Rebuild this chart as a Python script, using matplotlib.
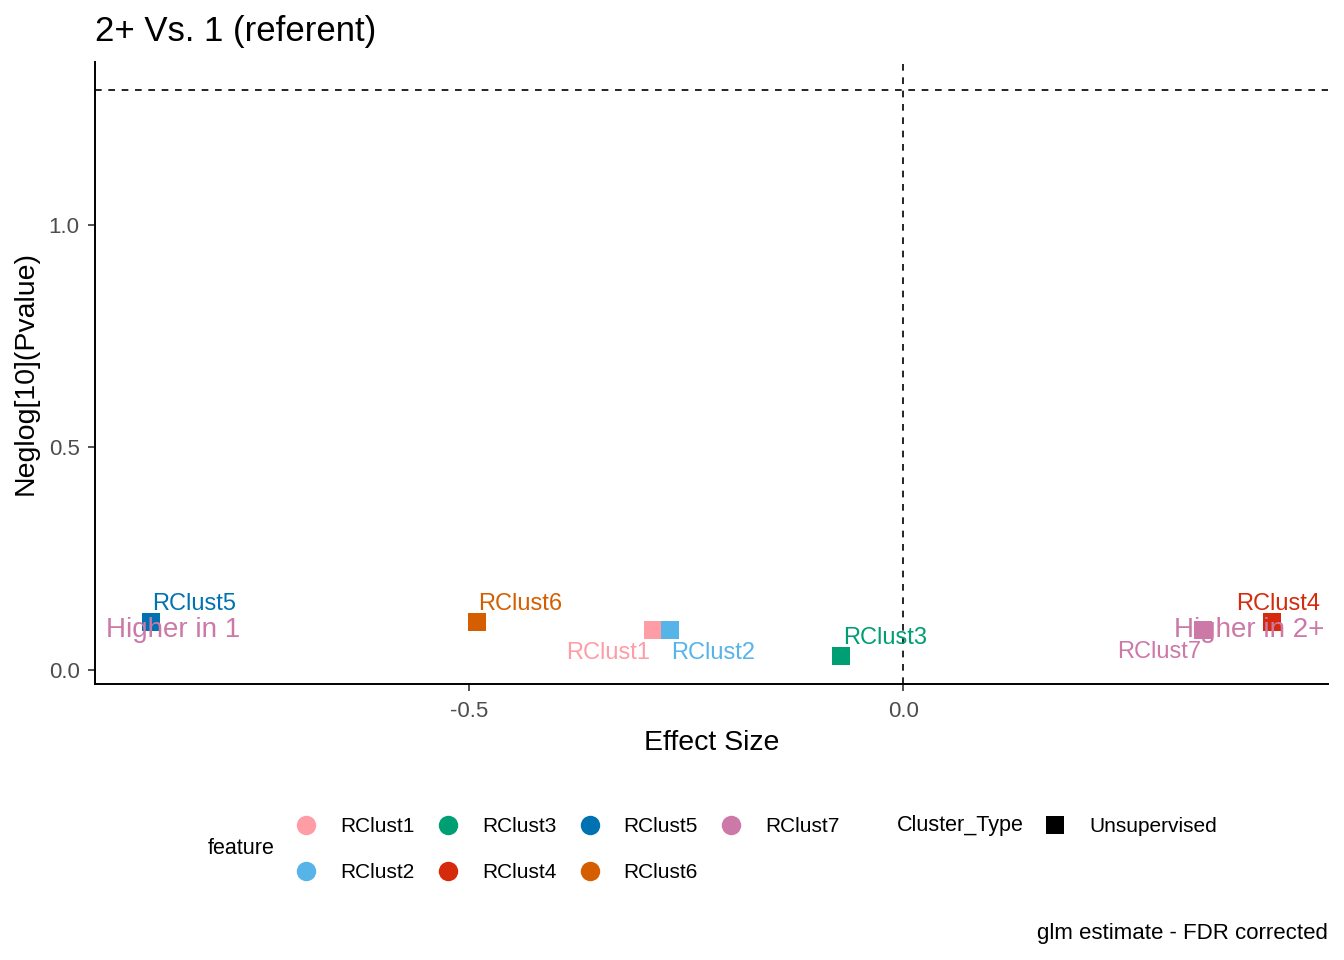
import matplotlib
matplotlib.use("Agg")
import matplotlib.pyplot as plt
from matplotlib.lines import Line2D

plt.rcParams["font.family"] = ["Liberation Sans", "DejaVu Sans"]

# data
features = ["RClust1", "RClust2", "RClust3", "RClust4", "RClust5", "RClust6", "RClust7"]
effect_size = [-0.289, -0.269, -0.072, 0.425, -0.867, -0.491, 0.346]
neglog_p = [0.091, 0.091, 0.033, 0.109, 0.109, 0.109, 0.091]
feature_colors = ["#FF9DA7", "#56B4E9", "#009E73", "#D52A0B", "#0072B2", "#D55E00", "#CC79A7"]

direction_labels = ["Higher in 1", "Higher in 2+"]
direction_x = [-0.842, 0.399]
direction_y = [0.091, 0.091]

sig_cutoff = 1.301  # -log10(0.05)

# label offsets (points) mimicking the ggrepel placement
label_offsets = {
    "RClust1": (-1.5, -16.5, "right"),
    "RClust2": (0.7, -16.5, "left"),
    "RClust3": (1.5, 13.0, "left"),
    "RClust4": (4.3, 13.0, "center"),
    "RClust5": (0.7, 12.5, "left"),
    "RClust6": (0.7, 13.0, "left"),
    "RClust7": (-1.5, -16.0, "right"),
}

fig = plt.figure(figsize=(13.44, 9.6), dpi=100)
ax = fig.add_axes([95 / 1344, 1 - 684 / 960, (1328 - 95) / 1344, (684 - 62) / 960])

ax.axhline(sig_cutoff, color="black", linestyle=(0, (4, 4)), linewidth=1.2, zorder=1)
ax.axvline(0, color="black", linestyle=(0, (4, 4)), linewidth=1.2, zorder=1)

for name, x, y, c in zip(features, effect_size, neglog_p, feature_colors):
    ax.scatter(x, y, marker="s", s=185, color=c, linewidths=0, zorder=3)

for name, x, y, c in zip(features, effect_size, neglog_p, feature_colors):
    dx, dy, ha = label_offsets[name]
    ax.annotate(name, (x, y), xytext=(dx, dy), textcoords="offset points",
                ha=ha, va="center", fontsize=17, color=c, zorder=4)

for lab, x, y in zip(direction_labels, direction_x, direction_y):
    ax.text(x, y, lab, ha="center", va="center", fontsize=20, color="#CC79A7", zorder=5)

xmin, xmax = min(effect_size), max(effect_size)
xr = xmax - xmin
ax.set_xlim(xmin - 0.05 * xr, xmax + 0.05 * xr)
ymin, ymax = min(neglog_p), sig_cutoff
yr = ymax - ymin
ax.set_ylim(ymin - 0.05 * yr, ymax + 0.05 * yr)

ax.set_xticks([-0.5, 0.0])
ax.set_xticklabels(["-0.5", "0.0"])
ax.set_yticks([0.0, 0.5, 1.0])
ax.set_yticklabels(["0.0", "0.5", "1.0"])
ax.tick_params(axis="both", labelsize=16, labelcolor="#4D4D4D", color="#333333",
               length=5, width=1.2)
ax.tick_params(axis="x", pad=7)
ax.tick_params(axis="y", pad=6)

for side in ["top", "right"]:
    ax.spines[side].set_visible(False)
for side in ["left", "bottom"]:
    ax.spines[side].set_linewidth(1.4)

ax.set_xlabel("Effect Size", fontsize=20.5, labelpad=6)
ax.set_ylabel("Neglog[10](Pvalue)", fontsize=20.5, labelpad=7)
ax.set_title("2+ Vs. 1 (referent)", fontsize=25, loc="left", pad=15)

# feature legend
handles = [Line2D([], [], marker="o", linestyle="none", markersize=14,
                  markerfacecolor=c, markeredgewidth=0) for c in feature_colors]
fig.legend(handles, features, ncol=4, loc="upper left",
           bbox_to_anchor=(296 / 1344, 1 - 817 / 960), frameon=False,
           fontsize=15, handlelength=1.0, handletextpad=1.13, columnspacing=1.1,
           labelspacing=1.3, borderpad=0, borderaxespad=0)
fig.text(208 / 1344, 1 - 849 / 960, "feature", fontsize=15.5, ha="left", va="center")

# cluster type legend
fig.text(897 / 1344, 1 - 826 / 960, "Cluster_Type", fontsize=15.5, ha="left", va="center")
type_handle = [Line2D([], [], marker="s", linestyle="none", markersize=13,
                      markerfacecolor="black", markeredgewidth=0)]
fig.legend(type_handle, ["Unsupervised"], loc="upper left",
           bbox_to_anchor=(1045 / 1344, 1 - 817 / 960), frameon=False,
           fontsize=15, handlelength=1.0, handletextpad=1.13,
           borderpad=0, borderaxespad=0)

fig.text(1328 / 1344, 1 - 934 / 960, "glm estimate - FDR corrected",
         fontsize=16, ha="right", va="center")

fig.savefig("out.png", dpi=100)
